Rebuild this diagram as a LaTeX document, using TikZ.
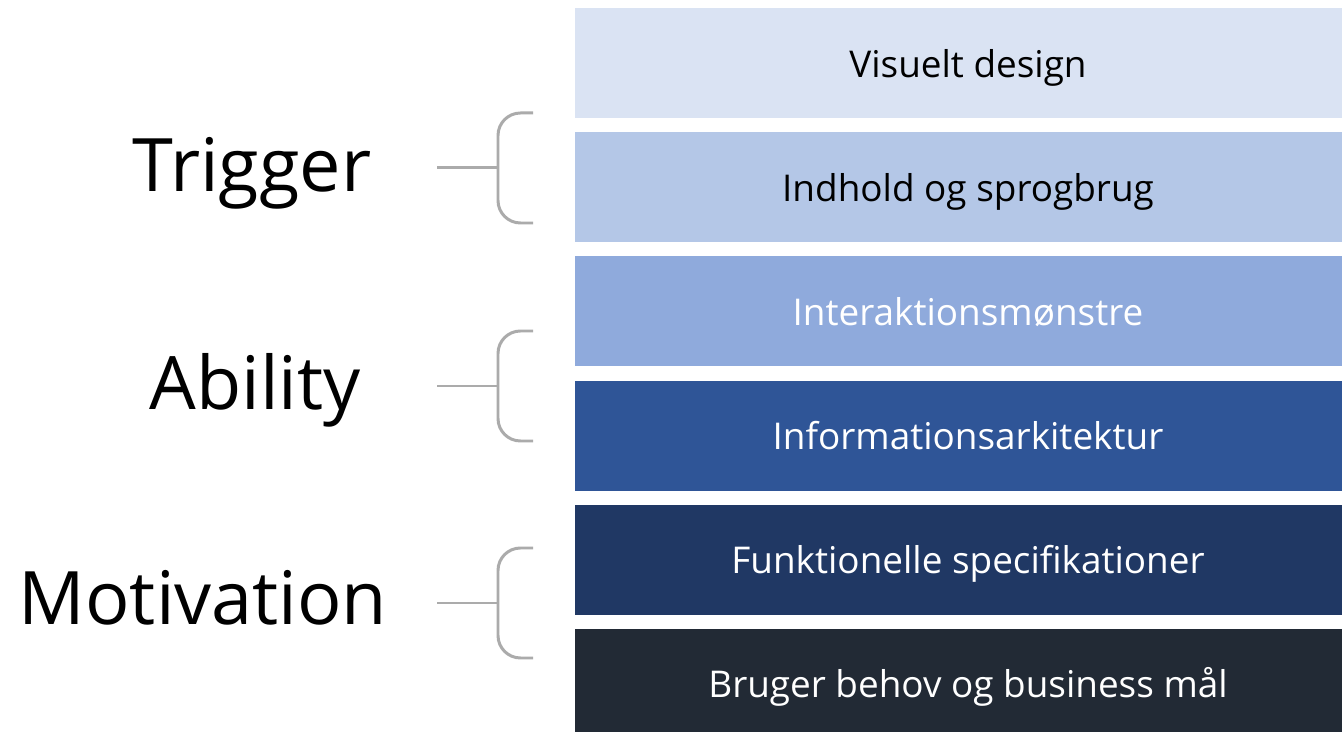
\documentclass[tikz,border=0pt]{standalone}
\usepackage{fontspec}
\setmainfont{Open Sans}
\usepackage{tikz}
\usetikzlibrary{positioning, calc}
\definecolor{lagA}{HTML}{DAE3F3}
\definecolor{lagB}{HTML}{B4C7E7}
\definecolor{lagC}{HTML}{8FAADC}
\definecolor{lagD}{HTML}{2F5597}
\definecolor{lagE}{HTML}{203864}
\definecolor{lagF}{HTML}{222A35}
\definecolor{braceGray}{HTML}{ABABAB}
\tikzset{lag/.style={rectangle, inner sep=0pt, minimum width=15.72cm, minimum height=2.2cm,
  text height=16pt, text depth=0pt, font=\fontsize{21}{25}\selectfont},
  factor/.style={anchor=base, inner sep=0pt, font=\fontsize{42}{50}\selectfont},
  brace/.style={braceGray, line width=1.7pt}}

\begin{document}
\begin{tikzpicture}[x=0.02cm, y=-0.02cm]
\useasboundingbox[fill=white] (0,0) rectangle (1342,732);
% the six layers
\node[lag, fill=lagA, text=black] (visuel) at (968,63) {Visuelt design};
\node[lag, fill=lagB, text=black, below=0.27cm of visuel] (indhold) {Indhold og sprogbrug};
\node[lag, fill=lagC, text=white, below=0.27cm of indhold] (interak) {Interaktionsmønstre};
\node[lag, fill=lagD, text=white, below=0.27cm of interak] (infoark) {Informationsarkitektur};
\node[lag, fill=lagE, text=white, below=0.27cm of infoark] (funkspec) {Funktionelle specifikationer};
\node[lag, fill=lagF, text=white, below=0.27cm of funkspec] (behov) {Bruger behov og business mål};
% the three factors
\node[factor] (trigger) at (252,192) {Trigger};
\node[factor] (ability) at (255,410) {Ability};
\node[factor] (motiv) at (203,625) {Motivation};
% braces
\foreach \nm/\yc in {trigger/168, ability/386, motiv/603} {
  \coordinate (\nm-stub) at (437,\yc);
  \coordinate (\nm-mid) at (498,\yc);
  \draw[brace] (\nm-stub) -- (\nm-mid);
  \draw[brace, rounded corners=0.45cm] (533,\yc-55) -- (498,\yc-55) -- (498,\yc+55) -- (533,\yc+55);
}
\end{tikzpicture}
\end{document}
